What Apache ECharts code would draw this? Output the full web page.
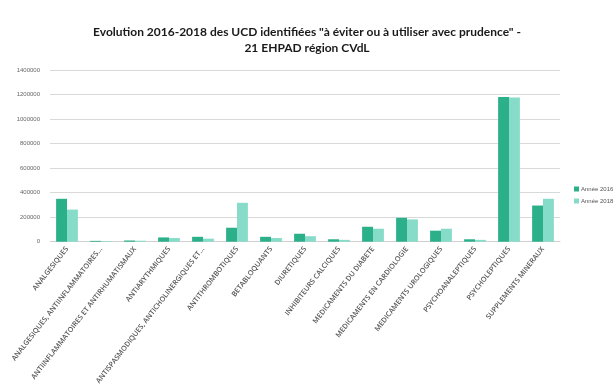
<!DOCTYPE html>
<html><head><meta charset="utf-8">
<script src="https://cdn.jsdelivr.net/npm/echarts@6/dist/echarts.min.js"></script>
<style>html,body{margin:0;padding:0;background:#fff}#c{width:614px;height:387px}</style>
</head><body><div id="c"></div>
<script>
const categories = [
  "ANALGESIQUES",
  "ANALGESIQUES, ANTIINFLAMMATOIRES...",
  "ANTIINFLAMMATOIRES ET ANTIRHUMATISMAUX",
  "ANTIARYTHMIQUES",
  "ANTISPASMODIQUES, ANTICHOLINERGIQUES ET...",
  "ANTITHROMBOTIQUES",
  "BETABLOQUANTS",
  "DIURETIQUES",
  "INHIBITEURS CALCIQUES",
  "MEDICAMENTS DU DIABETE",
  "MEDICAMENTS EN CARDIOLOGIE",
  "MEDICAMENTS UROLOGIQUES",
  "PSYCHOANALEPTIQUES",
  "PSYCHOLEPTIQUES",
  "SUPPLEMENTS MINERAUX"
];
const annee2016 = [350000, 7000, 10000, 35000, 40000, 114000, 40000, 65000, 20000, 122000, 195000, 90000, 20000, 1180000, 295000];
const annee2018 = [262000, 5000, 8000, 30000, 25000, 317000, 30000, 45000, 15000, 106000, 182000, 106000, 15000, 1175000, 350000];
const seriesNames = ["Année 2016", "Année 2018"];
const titleLines = ["Evolution 2016-2018 des UCD identifiées \"à éviter ou à utiliser avec prudence\" -", "21 EHPAD région CVdL"];

const chart = echarts.init(document.getElementById('c'), null, {renderer: 'canvas'});
chart.setOption({
  animation: false,
  backgroundColor: '#fff',
  title: {
    text: titleLines.join('\n'),
    left: 'center', top: 19,
    textStyle: {fontFamily: 'Lato', fontWeight: 'bold', fontSize: 12, color: '#1a1a1a', lineHeight: 16}
  },
  legend: {
    orient: 'vertical', left: 569, top: 181, itemGap: 6,
    itemWidth: 5, itemHeight: 5, icon: 'rect',
    textStyle: {fontSize: 6, color: '#555', padding: [0,0,0,-3]},
    data: seriesNames
  },
  grid: {left: 50, right: 54, top: 70, bottom: 145},
  xAxis: {
    type: 'category', data: categories,
    axisLine: {lineStyle: {color: '#d0d0d0'}},
    axisTick: {show: false},
    axisLabel: {rotate: 52, interval: 0, fontSize: 7.2, color: '#555', margin: 6, fontFamily: 'Open Sans', fontWeight: 600}
  },
  yAxis: {
    type: 'value', min: 0, max: 1400000, interval: 200000,
    axisLine: {show: false}, axisTick: {show: false},
    axisLabel: {fontSize: 6, color: '#666', margin: 10, formatter: v => String(v)},
    splitLine: {lineStyle: {color: '#d9d9d9'}}
  },
  series: [
    {name: seriesNames[0], type: 'bar', data: annee2016, barGap: '0%', barCategoryGap: '36%', itemStyle: {color: '#2bb08a'}},
    {name: seriesNames[1], type: 'bar', data: annee2018, itemStyle: {color: '#86dcc8'}}
  ]
});
</script></body></html>
